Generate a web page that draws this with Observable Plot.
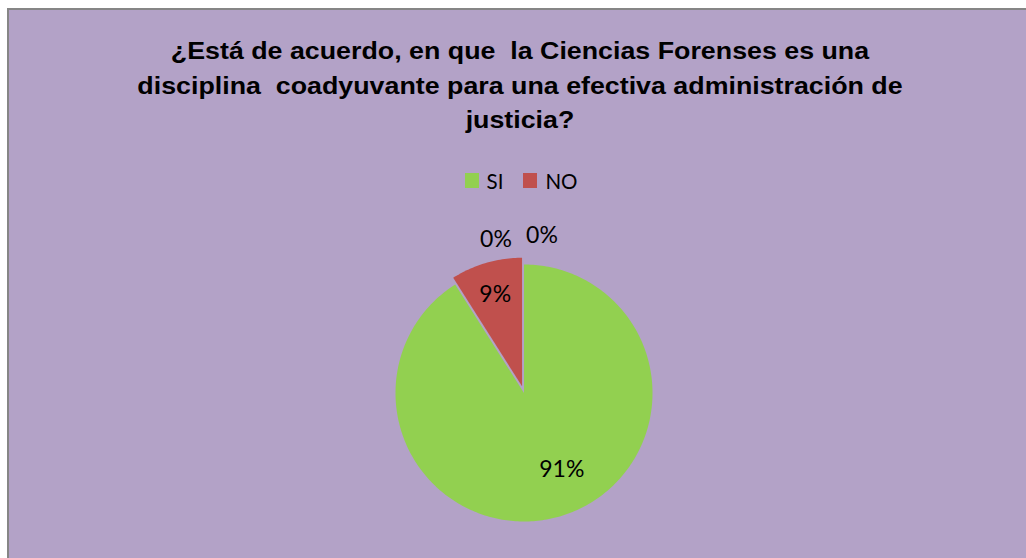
<!DOCTYPE html>
<html><head><meta charset="utf-8">
<script src="https://cdn.jsdelivr.net/npm/d3@7"></script>
<script src="https://cdn.jsdelivr.net/npm/@observablehq/plot@0.6"></script>
<style>
html,body{margin:0;padding:0;background:#fff}
body{width:1026px;height:558px;overflow:hidden;position:relative;font-family:"Liberation Sans",Arial,sans-serif}
#frame{position:absolute;left:7px;top:8px;width:1040px;height:570px;background:#B3A2C7;border-left:2px solid #868686;border-top:2px solid #868686}
#title{position:absolute;left:0;top:34px;width:1040px;text-align:center;font-weight:bold;font-size:23.5px;line-height:34.5px;white-space:pre;color:#000;transform:scaleX(1.14);transform-origin:520px 0}
#legend{position:absolute;left:-4px;top:171px;width:1050px;display:flex;justify-content:center;font-family:Lato,"Open Sans",sans-serif;font-size:20.5px;line-height:20px;color:#000}
.item{display:flex;align-items:flex-start;margin:0 10px}
.sw{width:14px;height:15px;margin-top:2px;margin-right:8px}
#chart{position:absolute;left:0;top:200px}
</style></head>
<body>
<div id="frame"></div>
<div id="title"></div>
<div id="legend"></div>
<div id="chart"></div>
<script>
// ---- data ----
const titleLines = [
  "¿Está de acuerdo, en que  la Ciencias Forenses es una",
  "disciplina  coadyuvante para una efectiva administración de",
  "justicia?"
];
const categories = ["SI", "NO", "", ""];
const values = [91, 9, 0, 0];
const colors = ["#92D050", "#C0504D", "#4F81BD", "#F79646"];

// ---- layout constants ----
const W = 1026, H = 358, R = 128.5, CX = 523.5, CY = 192.5;
const explodeIndex = 1, explodeDist = 7 / R;
const labelRadius = 0.72, outsideRadius = 1.2;

document.getElementById("title").textContent = titleLines.join("\n");

const legend = document.getElementById("legend");
categories.forEach((c, i) => {
  if (!c) return;
  const it = document.createElement("div"); it.className = "item";
  const sw = document.createElement("div"); sw.className = "sw"; sw.style.background = colors[i];
  const tx = document.createElement("span"); tx.textContent = c;
  it.appendChild(sw); it.appendChild(tx); legend.appendChild(it);
});

const total = d3.sum(values);
const arcs = d3.pie().sort(null).value(d => d)(values);

const polys = [];
const labels = [];
arcs.forEach((a, i) => {
  const mid = (a.startAngle + a.endAngle) / 2;
  const off = i === explodeIndex ? explodeDist : 0;
  const ox = off * Math.sin(mid), oy = off * Math.cos(mid);
  const pct = Math.round(values[i] / total * 100) + "%";
  if (values[i] > 0) {
    const n = Math.max(2, Math.ceil((a.endAngle - a.startAngle) / (Math.PI / 180)));
    polys.push({k: i, cat: String(i), x: ox, y: oy});
    for (let j = 0; j <= n; j++) {
      const t = a.startAngle + (a.endAngle - a.startAngle) * j / n;
      polys.push({k: i, cat: String(i), x: ox + Math.sin(t), y: oy + Math.cos(t)});
    }
    labels.push({i, x: ox + labelRadius * Math.sin(mid), y: oy + labelRadius * Math.cos(mid), text: pct, inside: true});
  } else {
    labels.push({i, x: outsideRadius * Math.sin(mid), y: outsideRadius * Math.cos(mid), text: pct, inside: false});
  }
});
const insideLabels = labels.filter(d => d.inside);
const zeroLabels = labels.filter(d => !d.inside);
const font = {fontSize: 23, fontFamily: "Lato, 'Open Sans', sans-serif", fill: "#000"};

const plot = Plot.plot({
  width: W, height: H, margin: 0,
  style: {background: "transparent", overflow: "visible"},
  x: {domain: [-CX / R, (W - CX) / R], range: [0, W], axis: null},
  y: {domain: [-(H - CY) / R, CY / R], range: [H, 0], axis: null},
  color: {domain: categories.map((c, i) => String(i)), range: colors},
  marks: [
    Plot.line(polys, {x: "x", y: "y", z: "cat", fill: "cat", stroke: "none", curve: "linear-closed"}),
    Plot.text(insideLabels.slice(0, 1), {x: "x", y: "y", text: "text", dx: 12, dy: -12, ...font}),
    Plot.text(insideLabels.slice(1, 2), {x: "x", y: "y", text: "text", dx: -1, dy: -3, ...font}),
    Plot.text(zeroLabels.slice(0, 1), {x: "x", y: "y", text: "text", dx: -28, dy: 1, ...font}),
    Plot.text(zeroLabels.slice(1, 2), {x: "x", y: "y", text: "text", dx: 18, dy: -3, ...font})
  ]
});
document.getElementById("chart").appendChild(plot);
</script>
</body></html>
